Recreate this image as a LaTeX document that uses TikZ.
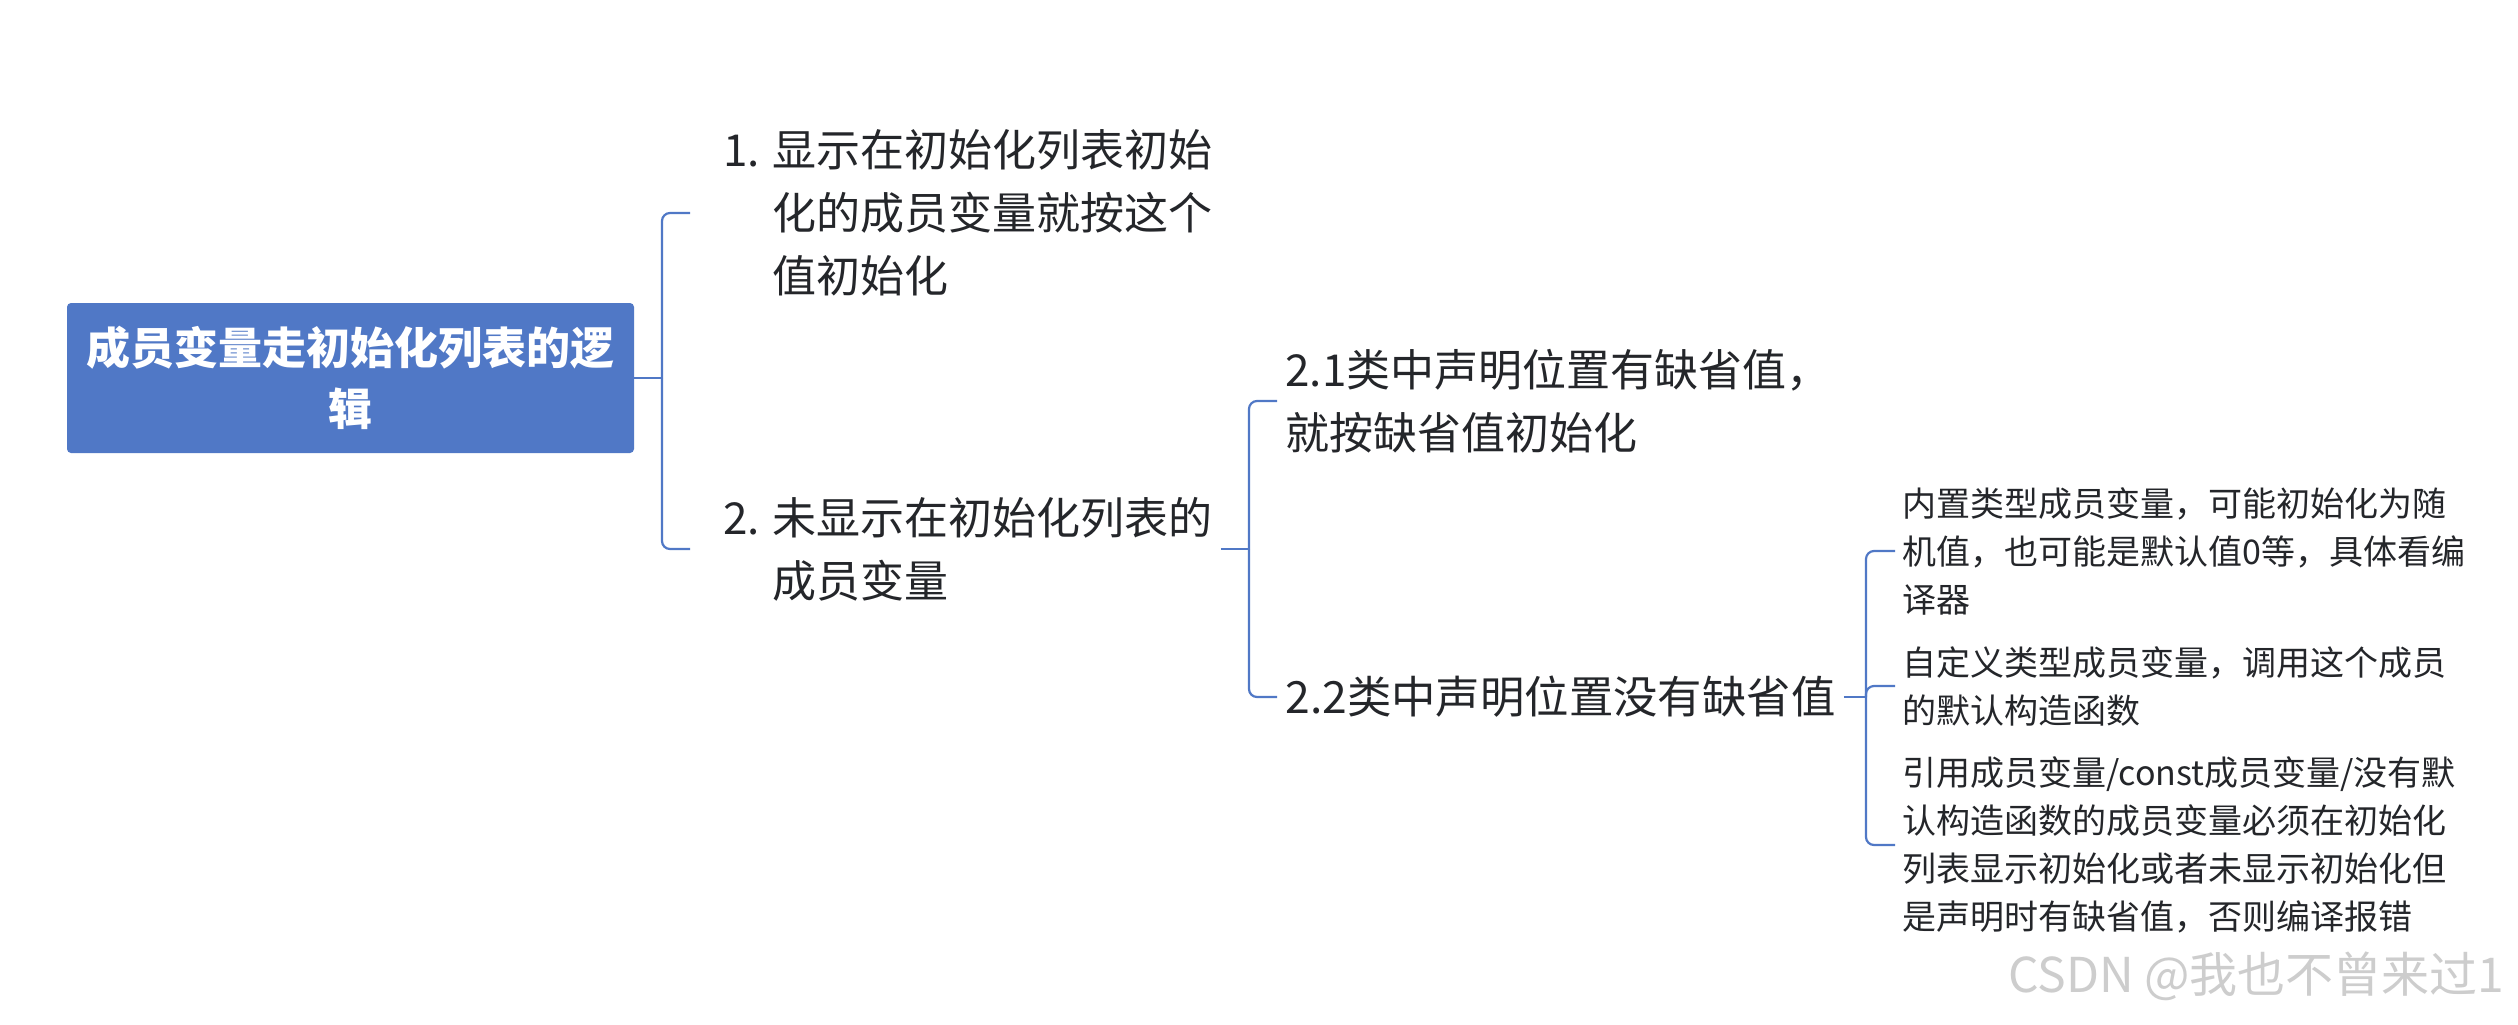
\documentclass[tikz,border=0pt]{standalone}
\usepackage{fontspec}
\setmainfont{Noto Sans CJK SC}
\definecolor{mblue}{RGB}{80,120,198}
\definecolor{mtext}{RGB}{36,38,42}
\definecolor{wmgray}{RGB}{205,205,205}
\begin{document}
\begin{tikzpicture}[x=0.5pt,y=-0.5pt,
  conn/.style={draw=mblue,line width=1.1pt},
  rc/.style={rounded corners=4pt},
  rootbox/.style={fill=mblue,rounded corners=2pt,minimum width=283.5pt,minimum height=75pt,text=white,font=\fontsize{22}{30.5}\selectfont\bfseries,align=center,inner sep=0pt},
  topic/.style={anchor=west,inner sep=0pt,text=mtext,align=left,font=\fontsize{22}{31.5}\selectfont},
  bigtopic/.style={topic,font=\fontsize{22.2}{31.5}\selectfont},
  leaf/.style={anchor=west,inner sep=0pt,text=mtext,align=left,font=\fontsize{17}{24}\selectfont},
  wmark/.style={anchor=east,inner sep=0pt,text=wmgray,font=\fontsize{24}{28}\selectfont}
]
\fill[white] (0,0) rectangle (2518,1024);
\useasboundingbox (0,0) rectangle (2518,1024);

% nodes
\node[rootbox] (root) at (350.5,378) {成员变量走初始化列表的逻\\辑};
\node[topic] (n1) at (723,213) {\makebox[24.5pt][l]{1.}显示在初始化列表初始\\\hspace*{24.5pt}化的成员变量就按这个\\\hspace*{24.5pt}值初始化};
\node[topic] (n2) at (723,549) {\makebox[24.5pt][l]{2.}未显示在初始化列表的\\\hspace*{24.5pt}成员变量};
\node[topic] (n21) at (1285,401) {2.1类中声明位置有缺省值，\\就按缺省值初始化};
\node[bigtopic] (n22) at (1285,697) {2.2类中声明位置没有缺省值};
\node[leaf] (la) at (1902,551) {内置类型成员变量，可能初始化为随\\机值，也可能是默认值0等，具体看编\\译器};
\node[leaf] (lb) at (1902,686) {自定义类型成员变量，调用这个成员\\的默认构造函数};
\node[leaf] (lc) at (1902,845) {引用成员变量/const成员变量/没有默\\认构造函数的成员变量必须在初始化\\列表显示初始化或者未显示初始化但\\是声明时有缺省值，否则编译报错};
\node[wmark] (wm) at (2505,976) {CSDN @我也不曾来过1};

% connectors
\draw[conn] (root.east) -- ([xshift=-30.5pt]n1.west |- root.east) coordinate (j0);
\draw[conn,rc] (j0) |- ([xshift=-16.5pt]n1.west);
\draw[conn,rc] (j0) |- ([xshift=-16.5pt]n2.west);

\draw[conn] ([xshift=4pt]n2.east) -- ([xshift=-18pt]n21.west |- n2.east) coordinate (j1);
\draw[conn,rc] (j1) |- ([xshift=-4pt]n21.west);
\draw[conn,rc] (j1) |- ([xshift=-4pt]n22.west);

\draw[conn] ([xshift=4pt]n22.east) -- ([xshift=-18pt]la.west |- n22.east) coordinate (j2);
\draw[conn,rc] (j2) |- ([xshift=-3.5pt]la.west);
\draw[conn,rc] (j2) |- ([xshift=-3.5pt]lb.west);
\draw[conn,rc] (j2) |- ([xshift=-3.5pt]lc.west);
\end{tikzpicture}
\end{document}
